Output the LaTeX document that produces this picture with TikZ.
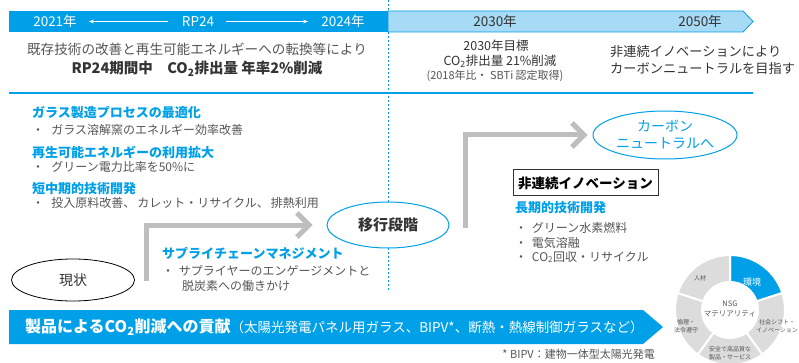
\documentclass[tikz,border=0pt]{standalone}
\usepackage{fontspec}
\setmainfont{Noto Sans CJK JP}
\usetikzlibrary{shapes.geometric,arrows.meta}

\definecolor{nsgblue}{HTML}{00A0E9}
\definecolor{lightblue}{HTML}{A6DAF5}
\definecolor{arrowgray}{HTML}{BEBEBE}
\definecolor{ringgray}{HTML}{DCDCDC}
\definecolor{txtgray}{HTML}{555555}
\definecolor{darktxt}{HTML}{333333}
\newcommand{\fsz}[2]{\fontsize{#1}{#2}\selectfont}

\begin{document}
\begin{tikzpicture}[x=1pt,y=1pt,
    yearw/.style={inner sep=0pt, text=white, font=\fsz{13.5}{16}},
    yeard/.style={inner sep=0pt, text=darktxt, font=\fsz{13.5}{16}},
    bhead/.style={inner sep=0pt, anchor=west, text=nsgblue, font=\bfseries\fsz{13}{16}},
    item/.style={inner sep=0pt, anchor=west, text=txtgray, font=\fsz{12}{15}},
    grayarrow/.style={draw=arrowgray, line width=5pt, -{Straight Barb[length=12pt,width=24pt]}},
    stage/.style={ellipse, line width=1pt, fill=white, inner sep=0pt},
    ring/.style={draw=white, line width=2pt},
    ringtxt/.style={inner sep=0pt, text=txtgray, align=center, font=\fsz{6}{7.5}}]

  \useasboundingbox (0,0) rectangle (799,-363);

  % time line
  \draw[nsgblue, line width=0.8pt, dash pattern=on 2pt off 2pt] (388,0) -- (388,-292);
  \fill[nsgblue] (9,-11) rectangle (388,-32);
  \filldraw[fill=lightblue, draw=nsgblue, line width=0.8pt] (388,-11) -- (743,-11) -- (753,-21.5) -- (743,-32) -- (388,-32) -- cycle;
  \node[yearw] (y2021) at (55,-21.5) {2021年};
  \node[yearw] (rp) at (198,-21.5) {RP24};
  \node[yearw] (y2024) at (343,-21.5) {2024年};
  \draw[white, line width=0.8pt, -{Stealth[length=5pt]}] ([xshift=-14pt]rp.west) -- ([xshift=12pt]y2021.east);
  \draw[white, line width=0.8pt, -{Stealth[length=5pt]}] ([xshift=12pt]rp.east) -- ([xshift=-13pt]y2024.west);
  \node[yeard] (y2030) at (495,-21.5) {2030年};
  \node[yeard] (y2050) at (700,-21.5) {2050年};
  \draw[nsgblue, line width=1.5pt] (9,-93) -- (753,-93);

  % targets
  \node[inner sep=0pt, text=txtgray, font=\fsz{13.6}{16}] (rp24a) at (197,-49) {既存技術の改善と再生可能エネルギーへの転換等により};
  \node[inner sep=0pt, text=darktxt, font=\bfseries\fsz{14.5}{17}] (rp24b) at (197,-69) {RP24期間中\quad CO\textsubscript{2}排出量 年率2\%削減};
  \node[inner sep=0pt, text=darktxt, font=\fsz{12.5}{15}] (t30a) at (496,-46) {2030年目標};
  \node[inner sep=0pt, text=darktxt, font=\fsz{12.5}{15}] (t30b) at (500,-61) {CO\textsubscript{2}排出量 21\%削減};
  \node[inner sep=0pt, text=txtgray, font=\fsz{11}{13}] (t30c) at (495,-76) {(2018年比・ SBTi\ 認定取得)};
  \node[inner sep=0pt, anchor=west, text=darktxt, font=\fsz{13.2}{16}] (t50a) at (610,-52) {非連続イノベーションにより};
  \node[inner sep=0pt, anchor=west, text=darktxt, font=\fsz{13.2}{16}] (t50b) at (610,-68) {カーボンニュートラルを目指す};

  % short and mid term
  \node[bhead] (h1) at (32,-113) {ガラス製造プロセスの最適化};
  \node[item] (i1) at (32,-130) {・\hspace{0.6em}ガラス溶解窯のエネルギー効率改善};
  \node[bhead] (h2) at (32,-152) {再生可能エネルギーの利用拡大};
  \node[item] (i2) at (32,-167) {・\hspace{0.6em}グリーン電力比率を50\%に};
  \node[bhead] (h3) at (32,-189) {短中期的技術開発};
  \node[item] (i3) at (32,-203) {・\hspace{0.6em}投入原料改善、\,カレット・リサイクル、\,排熱利用};
  \node[bhead] (h4) at (162,-253) {サプライチェーンマネジメント};
  \node[item] (i4) at (162,-271) {・\hspace{0.4em}サプライヤーのエンゲージメントと};
  \node[item] (i5) at (182,-286) {脱炭素への働きかけ};

  % stages
  \node[stage, draw=black, line width=0.8pt, minimum width=123pt, minimum height=42pt, text=darktxt, font=\fsz{14}{16}] (now) at (73,-280) {現状};
  \node[stage, draw=nsgblue, minimum width=122pt, minimum height=46pt, text=darktxt, font=\bfseries\fsz{15}{18}] (ikou) at (388,-225) {移行段階};
  \node[stage, draw=nsgblue, minimum width=144pt, minimum height=48pt, text=nsgblue, align=center, font=\fsz{14}{17}] (cn) at (665,-135) {カーボン\\ニュートラルへ};
  \coordinate (a1) at (146,-281);
  \coordinate (a2) at (465,-228);
  \draw[grayarrow] (a1) |- ([xshift=-14pt]ikou.west);
  \draw[grayarrow] (a2) |- ([xshift=-5pt]cn.west);

  % long term
  \node[draw=darktxt, line width=1pt, minimum width=145pt, minimum height=26pt, inner sep=0pt, text=black, font=\bfseries\fsz{13.5}{16}] (inno) at (585.5,-183) {非連続イノベーション};
  \node[bhead] (h5) at (515,-208) {長期的技術開発};
  \node[item] (i6) at (515,-228) {・\hspace{0.4em}グリーン水素燃料};
  \node[item] (i7) at (515,-243) {・\hspace{0.4em}電気溶融};
  \node[item] (i8) at (515,-257) {・\hspace{0.4em}CO\textsubscript{2}回収・リサイクル};

  % products
  \fill[nsgblue] (9,-310) -- (643,-310) -- (663,-327) -- (643,-344) -- (9,-344) -- cycle;
  \node[inner sep=0pt, anchor=west, text=white] (prod) at (25,-327) {{\bfseries\fsz{16}{18}製品によるCO\textsubscript{2}削減への貢献}{\fsz{13.5}{16}（太陽光発電パネル用ガラス、BIPV*、断熱・熱線制御ガラスなど）}};
  \node[inner sep=0pt, anchor=east, text=txtgray, font=\fsz{11}{13}] (note) at (655,-354) {* BIPV：建物一体型太陽光発電};

  % materiality ring
  \coordinate (c) at (730,-310);
  \filldraw[ring, fill=nsgblue] ([shift={(90:55)}]c) arc[start angle=90, end angle=18, radius=55] -- ([shift={(18:28)}]c) arc[start angle=18, end angle=90, radius=28] -- cycle;
  \filldraw[ring, fill=ringgray] ([shift={(18:55)}]c) arc[start angle=18, end angle=-54, radius=55] -- ([shift={(-54:28)}]c) arc[start angle=-54, end angle=18, radius=28] -- cycle;
  \filldraw[ring, fill=ringgray] ([shift={(-54:55)}]c) arc[start angle=-54, end angle=-126, radius=55] -- ([shift={(-126:28)}]c) arc[start angle=-126, end angle=-54, radius=28] -- cycle;
  \filldraw[ring, fill=ringgray] ([shift={(-126:55)}]c) arc[start angle=-126, end angle=-198, radius=55] -- ([shift={(-198:28)}]c) arc[start angle=-198, end angle=-126, radius=28] -- cycle;
  \filldraw[ring, fill=ringgray] ([shift={(162:55)}]c) arc[start angle=162, end angle=90, radius=55] -- ([shift={(90:28)}]c) arc[start angle=90, end angle=162, radius=28] -- cycle;
  \node[inner sep=0pt, text=txtgray, align=center, font=\fsz{7.5}{10}] (nsg) at (730,-309) {NSG\\マテリアリティ};
  \node[inner sep=0pt, text=white, font=\fsz{9}{10}] (env) at (752,-282) {環境};
  \node[ringtxt] (hr) at (700,-278) {人材};
  \node[ringtxt] (eth) at (686,-326) {倫理・\\法令遵守};
  \node[ringtxt] (soc) at (777,-326) {社会シフト・\\イノベーション};
  \node[ringtxt] (qual) at (730,-353) {安全で高品質な\\製品・サービス};
\end{tikzpicture}
\end{document}
